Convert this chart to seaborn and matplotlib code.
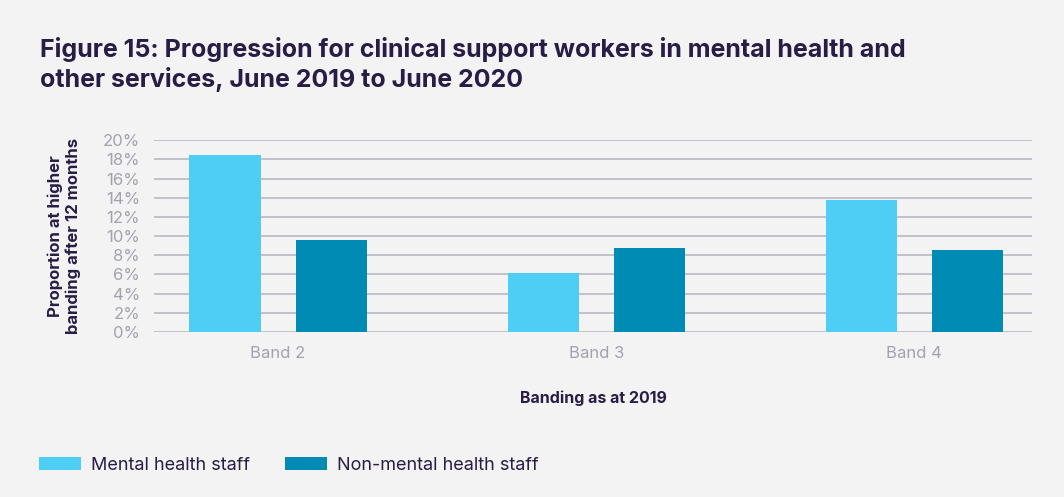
import matplotlib
matplotlib.use("Agg")
import matplotlib.pyplot as plt
import seaborn as sns
import pandas as pd
from matplotlib.ticker import PercentFormatter, MultipleLocator
from matplotlib.patches import Patch

bands = ["Band 2", "Band 3", "Band 4"]
mental_health = [18.5, 6.2, 13.8]
non_mental_health = [9.6, 8.8, 8.5]
series_names = ["Mental health staff", "Non-mental health staff"]
colors = ["#4ECEF5", "#008BB4"]

df = pd.DataFrame({
    "band": bands * 2,
    "value": mental_health + non_mental_health,
    "group": [series_names[0]] * 3 + [series_names[1]] * 3,
})

bg = "#F3F3F3"
purple = "#271D45"
grey_text = "#A3A3AE"

sns.set_theme(style="white")
plt.rcParams["font.family"] = ["Inter", "DejaVu Sans"]

fig = plt.figure(figsize=(10.64, 4.97), dpi=100, facecolor=bg)
ax = fig.add_axes([0.1447, 0.332, 0.8253, 0.386])
ax.set_facecolor(bg)

sns.barplot(data=df, x="band", y="value", hue="group", palette=colors,
            width=0.667, gap=0.33, ax=ax, legend=False, saturation=1,
            linewidth=0, zorder=3)

ax.set_ylim(0, 20)
ax.set_xlim(-0.39, 2.37)
ax.yaxis.set_major_locator(MultipleLocator(2))
ax.yaxis.set_major_formatter(PercentFormatter(decimals=0))
ax.grid(axis="y", color="#B3B4BE", linewidth=1.1, zorder=0)
ax.set_axisbelow(True)
for s in ax.spines.values():
    s.set_visible(False)
ax.tick_params(axis="both", length=0, labelsize=12, colors=grey_text)
ax.tick_params(axis="x", pad=10)
ax.tick_params(axis="y", pad=10)

ax.set_xlabel("Banding as at 2019", fontsize=11.5, fontweight="bold",
              color=purple, labelpad=21)
ax.set_ylabel("Proportion at higher\nbanding after 12 months", fontsize=12,
              fontweight="bold", color=purple, labelpad=16, linespacing=1.2)

fig.text(0.038, 0.871,
         "Figure 15: Progression for clinical support workers in mental health and\n"
         "other services, June 2019 to June 2020",
         fontsize=18, fontweight="bold", color=purple, ha="left", va="center",
         linespacing=1.25)

handles = [Patch(facecolor=c, edgecolor="none") for c in colors]
fig.legend(handles, series_names, loc="center left", bbox_to_anchor=(0.037, 0.064),
           ncol=2, frameon=False, fontsize=13, labelcolor=purple,
           handlelength=2.33, handleheight=0.78, handletextpad=0.55,
           columnspacing=1.94, borderaxespad=0, borderpad=0)

fig.savefig("out.png", dpi=100, facecolor=bg)
